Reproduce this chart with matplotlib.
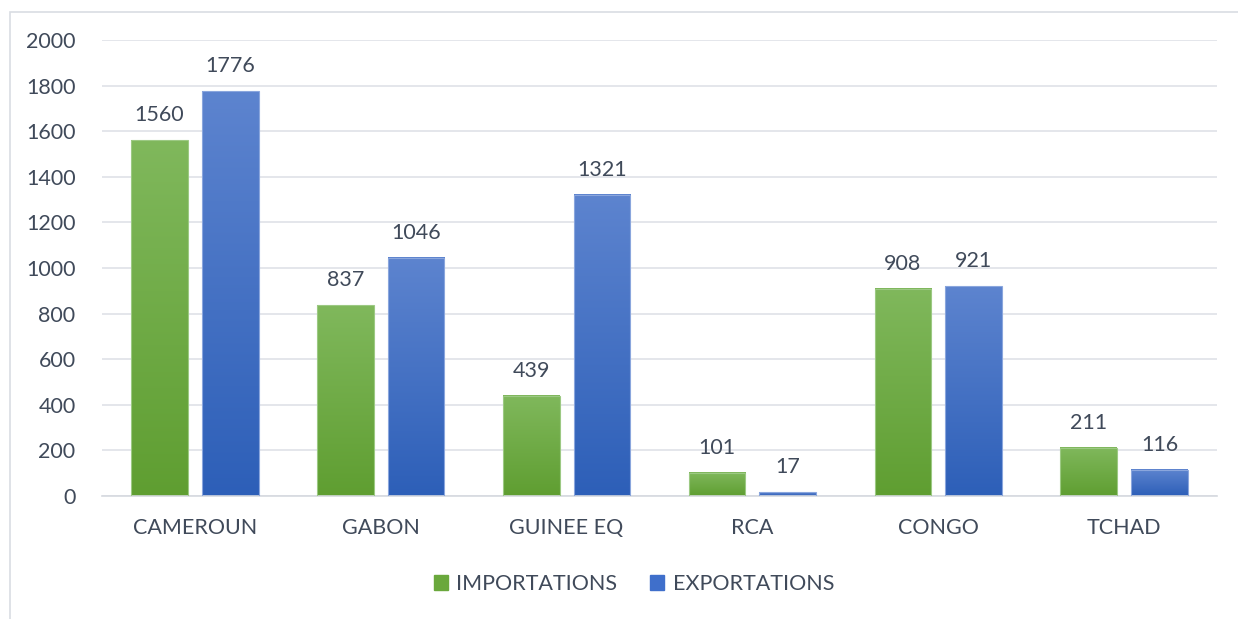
import matplotlib
matplotlib.use("Agg")
import matplotlib.pyplot as plt
import numpy as np
from matplotlib.patches import Rectangle
from matplotlib.colors import LinearSegmentedColormap

categories = ["CAMEROUN", "GABON", "GUINEE EQ", "RCA", "CONGO", "TCHAD"]
importations = [1560, 837, 439, 101, 908, 211]
exportations = [1776, 1046, 1321, 17, 921, 116]
yticks = [0, 200, 400, 600, 800, 1000, 1200, 1400, 1600, 1800, 2000]
series_names = ["IMPORTATIONS", "EXPORTATIONS"]

plt.rcParams['font.family'] = ['Lato', 'DejaVu Sans']
txt = '#404a5a'
fs = 15.5

fig = plt.figure(figsize=(12.38, 6.19), dpi=100)
W, H = 1238, 619
# frame
fig.add_artist(Rectangle((10 / W, -0.01), 1.0, 1 - 12 / H + 0.01, transform=fig.transFigure,
                         fill=False, edgecolor='#d9dde3', linewidth=1.2))

ax = fig.add_axes([102 / W, 1 - 496 / H, (1217 - 102) / W, (496 - 40) / H])

green_cmap = LinearSegmentedColormap.from_list('g', ['#5f9e31', '#80b85c'])
blue_cmap = LinearSegmentedColormap.from_list('b', ['#2d5fb8', '#5d84cf'])

bw = 0.305
off = 0.19
x = np.arange(len(categories))
grad = np.linspace(0, 1, 256).reshape(-1, 1)

def draw_bars(xs, vals, cmap, edge):
    bars = ax.bar(xs, vals, width=bw, color='none', edgecolor=edge, linewidth=0.8, zorder=3)
    for b in bars:
        x0, w, h = b.get_x(), b.get_width(), b.get_height()
        ax.imshow(grad, extent=[x0, x0 + w, 0, h], origin='lower', cmap=cmap,
                  aspect='auto', zorder=2)
    return bars

draw_bars(x - off, importations, green_cmap, '#9cc983')
draw_bars(x + off, exportations, blue_cmap, '#8aa6dd')
ax.set_xlim(-0.5, len(categories) - 0.5)
ax.set_ylim(0, 2000)

for xs, vals in ((x - off, importations), (x + off, exportations)):
    for xi, v in zip(xs, vals):
        ax.annotate(str(v), (xi, v), xytext=(0, 15), textcoords='offset pixels',
                    ha='center', va='bottom', fontsize=fs, color=txt)

ax.set_yticks(yticks)
ax.set_yticklabels([str(t) for t in yticks])
ax.set_xticks(x)
ax.set_xticklabels(categories)
ax.tick_params(axis='y', length=0, pad=19, labelsize=fs, labelcolor=txt)
ax.tick_params(axis='x', length=0, pad=16, labelsize=fs, labelcolor=txt)
ax.grid(axis='y', color='#dfe2e8', linewidth=1.2, zorder=0)
ax.set_axisbelow(True)
for s in ['top', 'right', 'left']:
    ax.spines[s].set_visible(False)
ax.spines['bottom'].set_color('#d6d9df')
ax.spines['bottom'].set_linewidth(1.2)

handles = [Rectangle((0, 0), 1, 1, color='#6aa83c'), Rectangle((0, 0), 1, 1, color='#3f6fcb')]
fig.legend(handles, series_names, loc='center', bbox_to_anchor=(634 / W, 1 - 584 / H), ncol=2,
           frameon=False, fontsize=fs, labelcolor=txt, handlelength=0.65, handleheight=0.65,
           handletextpad=0.4, columnspacing=1.55)

fig.savefig('out.png', dpi=100, facecolor='white')
